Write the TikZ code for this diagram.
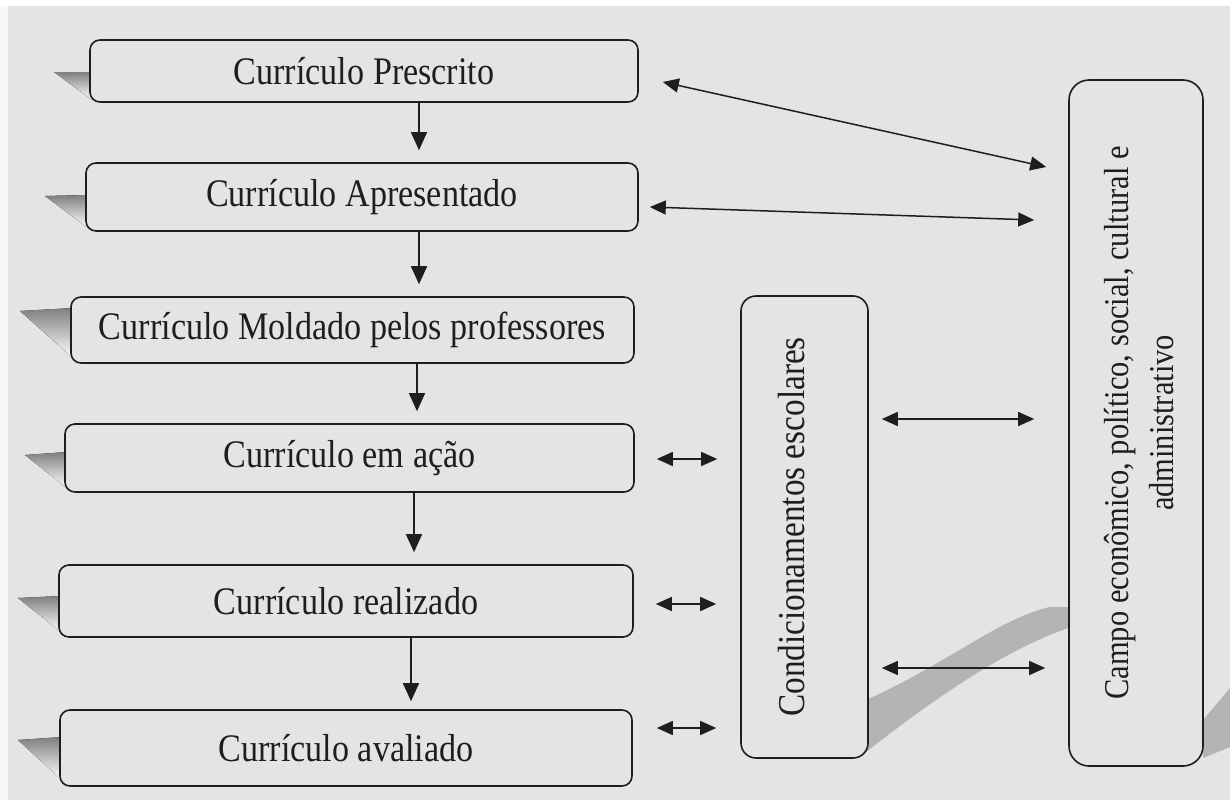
\documentclass[tikz,border=0pt]{standalone}
\usepackage{fontspec}
\setmainfont{Liberation Serif}[FakeStretch=0.875]
\usetikzlibrary{arrows.meta,calc}
\definecolor{page}{RGB}{228,228,228}
\definecolor{ink}{RGB}{30,30,30}
\definecolor{shade}{RGB}{172,172,172}
\tikzset{
  lbox/.style={draw=ink, line width=1.6pt, rounded corners=10pt, fill=page, inner sep=0pt,
    font=\fontsize{39}{46}\selectfont, text=ink},
  vbox/.style={draw=ink, line width=1.6pt, rounded corners=18pt, fill=page, inner sep=0pt},
  vtext/.style={rotate=90, text=ink, align=center, inner sep=0pt},
  varr/.style={draw=ink, line width=1.5pt, -{Triangle[length=18pt,width=16pt]}, shorten >=12pt},
  darr/.style={draw=ink, line width=1.5pt, {Triangle[length=16pt,width=14pt]}-{Triangle[length=16pt,width=14pt]}},
  shadowtri/.style={fill=shade, draw=none}
}
\begin{document}
\begin{tikzpicture}[x=1pt,y=-1pt]
\useasboundingbox (0,0) rectangle (1230,800);
\fill[page] (0,0) rectangle (1230,800);
\fill[white!70!page] (0,0) rectangle (8,800);
\fill[white] (0,0) rectangle (1230,6);
% diagonal shadow band
\fill[shade!85!page] (866,700) .. controls (950,662) and (1000,618) .. (1050,607) -- (1068,607) -- (1068,628) .. controls (1000,652) and (930,702) .. (866,752) -- cycle;
\fill[shade!85!page] (1203,720) -- (1230,688) -- (1230,747) -- (1203,758) -- cycle;
% left shadows
\fill[shade] (54,72) -- (92,72) -- (92,100) -- cycle;
\fill[shade] (45,196) -- (88,195) -- (88,228) -- cycle;
\fill[shade] (20,311) -- (73,308) -- (73,358) -- cycle;
\fill[shade] (25,455) -- (67,452) -- (67,488) -- cycle;
\fill[shade] (18,598) -- (61,596) -- (61,632) -- cycle;
\fill[shade] (18,740) -- (62,737) -- (62,780) -- cycle;
% left boxes
\node[lbox, minimum width=548pt, minimum height=62pt] (b1) at (364,71) {Currículo Prescrito};
\node[lbox, minimum width=552pt, minimum height=68pt] (b2) at (362,197) {Currículo Apresentado};
\node[lbox, minimum width=563pt, minimum height=66pt] (b3) at (352.5,330) {Currículo Moldado pelos professores};
\node[lbox, minimum width=569pt, minimum height=68pt] (b4) at (349.5,458) {Currículo em ação};
\node[lbox, minimum width=574pt, minimum height=72pt] (b5) at (346,601) {Currículo realizado};
\node[lbox, minimum width=572pt, minimum height=76pt] (b6) at (346,748) {Currículo avaliado};
% right boxes
\node[vbox, rounded corners=15pt, minimum width=127pt, minimum height=462pt] (cond) at (804.5,527) {};
\node[vtext, font=\fontsize{38}{45}\selectfont] (condt) at (791,527) {Condicionamentos escolares};
\node[vbox, rounded corners=20pt, minimum width=134pt, minimum height=686pt] (campo) at (1136,423) {};
\node[vtext, font=\fontsize{34.8}{45}\selectfont] (campot) at (1139,423) {Campo econômico, político, social, cultural e\\administrativo};
% vertical arrows
\coordinate (x1) at (419,0);
\coordinate (x2) at (419,0);
\coordinate (x3) at (417,0);
\coordinate (x4) at (414,0);
\coordinate (x5) at (411,0);
\draw[varr] (b1.south -| x1) -- (b2.north -| x1);
\draw[varr] (b2.south -| x2) -- (b3.north -| x2);
\draw[varr] (b3.south -| x3) -- (b4.north -| x3);
\draw[varr] (b4.south -| x4) -- (b5.north -| x4);
\draw[varr, shorten >=8pt] (b5.south -| x5) -- (b6.north -| x5);
% arrows to Condicionamentos
\coordinate (h4) at ([yshift=-1pt]b4.east);
\coordinate (h5) at ([yshift=-3pt]b5.east);
\coordinate (h6) at ([yshift=20pt]b6.east);
\draw[darr, shorten <=22pt, shorten >=23pt] (h4) -- (h4 -| cond.west);
\draw[darr, shorten <=22pt, shorten >=24pt] (h5) -- (h5 -| cond.west);
\draw[darr, shorten <=24pt, shorten >=24pt] (h6) -- (h6 -| cond.west);
% arrows to Campo
\draw[darr] ($(b1.east)+(24,11)$) -- ($(campo.west)+(-22,-256)$);
\draw[darr] ($(b2.east)+(11,10)$) -- ($(campo.west)+(-34,-203)$);
\coordinate (c1) at ($(cond.east)+(13,-108)$);
\coordinate (c2) at ($(cond.east)+(13,141)$);
\draw[darr, shorten >=34pt] (c1) -- (c1 -| campo.west);
\draw[darr, shorten >=23pt] (c2) -- (c2 -| campo.west);
\end{tikzpicture}
\end{document}
